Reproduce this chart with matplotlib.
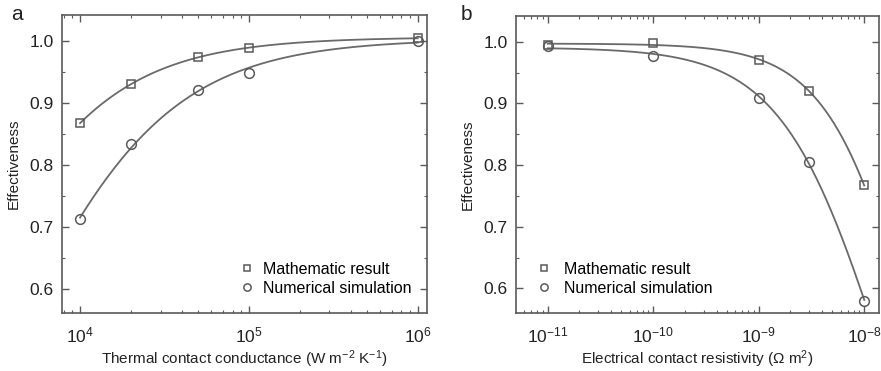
import numpy as np
import matplotlib
matplotlib.use("Agg")
import matplotlib.pyplot as plt
from matplotlib.ticker import LogLocator, MultipleLocator, FixedLocator, NullFormatter

plt.rcParams['font.family'] = ['Liberation Sans', 'DejaVu Sans']
plt.rcParams['mathtext.fontset'] = 'custom'
plt.rcParams['mathtext.rm'] = 'Liberation Sans'
plt.rcParams['mathtext.it'] = 'Liberation Sans:italic'

# Panel a data
xa = [1e4, 2e4, 5e4, 1e5, 1e6]
ya_math = [0.867, 0.930, 0.973, 0.988, 1.004]
ya_num = [0.713, 0.833, 0.920, 0.948, 1.000]
xa_ticks = [1e4, 1e5, 1e6]
xa_ticklabels = [r'$\mathregular{10^{4}}$', r'$\mathregular{10^{5}}$', r'$\mathregular{10^{6}}$']

# Panel b data
xb = [1e-11, 1e-10, 1e-9, 3e-9, 1e-8]
yb_math = [0.995, 0.998, 0.970, 0.921, 0.767]
yb_num = [0.994, 0.977, 0.909, 0.805, 0.580]
xb_ticks = [1e-11, 1e-10, 1e-9, 1e-8]
xb_ticklabels = [r'$\mathregular{10^{-11}}$', r'$\mathregular{10^{-10}}$',
                 r'$\mathregular{10^{-9}}$', r'$\mathregular{10^{-8}}$']

y_ticks = [0.6, 0.7, 0.8, 0.9, 1.0]
legend_labels = ["Mathematic result", "Numerical simulation"]

C = '#5a5a5a'
LC = '#6a6a6a'
TC = '#222222'


def fit(x, y, g, kgrid, pgrid):
    # y = c / (1 + (k*g(x))**p), least squares in y over grids of k and p
    x = np.asarray(x); y = np.asarray(y)
    best = None
    for p in pgrid:
        for k in kgrid:
            f = 1.0 / (1.0 + (k * g(x)) ** p)
            c = np.sum(y * f) / np.sum(f * f)
            r = np.sum((y - c * f) ** 2)
            if best is None or r < best[0]:
                best = (r, c, k, p)
    _, c, k, p = best
    return lambda t: c / (1.0 + (k * g(t)) ** p)


fig = plt.figure(figsize=(8.81, 3.71), dpi=100)
W, H = 881, 371
axa = fig.add_axes([62 / W, 1 - 313 / H, (427 - 62) / W, (313 - 15) / H])
axb = fig.add_axes([516 / W, 1 - 313 / H, (879 - 516) / W, (313 - 16) / H])


def style(ax):
    for s in ax.spines.values():
        s.set_color(C)
        s.set_linewidth(1.2)
    ax.tick_params(which='both', direction='in', top=True, right=True, colors=C,
                   labelcolor=TC)
    ax.tick_params(which='major', length=5, width=1.0, labelsize=12.5, pad=6)
    ax.tick_params(axis='x', which='major', pad=9)
    ax.tick_params(which='minor', length=2.5, width=0.8)
    ax.set_ylabel("Effectiveness", fontsize=11, color=TC, labelpad=6)


pg = np.linspace(0.8, 1.4, 61)

# Panel a
style(axa)
axa.set_xscale('log')
axa.set_xlim(10 ** 3.893, 10 ** 6.055)
axa.set_ylim(0.562, 1.041)
axa.set_yticks(y_ticks)
axa.yaxis.set_minor_locator(MultipleLocator(0.05))
axa.xaxis.set_major_locator(FixedLocator(xa_ticks))
axa.set_xticklabels(xa_ticklabels)
axa.xaxis.set_minor_locator(LogLocator(base=10, subs=np.arange(2, 10)))
axa.xaxis.set_minor_formatter(NullFormatter())
t = np.logspace(4, 6, 300)
kg_a = np.geomspace(1e-4, 1e-2, 400)  # k multiplies 1/x -> scale = 1/k
axa.plot(t, fit(xa, ya_math, lambda v: 1.0 / v, 1 / kg_a, pg)(t), color=LC, lw=1.3)
axa.plot(t, fit(xa, ya_num, lambda v: 1.0 / v, 1 / kg_a, pg)(t), color=LC, lw=1.3)
axa.plot(xa, ya_math, 's', ms=6, mfc='none', mec=C, mew=1.1, label=legend_labels[0])
axa.plot(xa, ya_num, 'o', ms=7, mfc='none', mec=C, mew=1.1, label=legend_labels[1])
axa.set_xlabel(r"Thermal contact conductance (W m$^{\mathregular{-2}}$ K$^{\mathregular{-1}}$)",
               fontsize=11, color=TC, labelpad=2)
axa.legend(loc='lower right', frameon=False, fontsize=11.5, markerscale=0.75,
           handletextpad=0.5, handlelength=1.0, borderaxespad=0.6, labelspacing=0.25,
           bbox_to_anchor=(1.0, 0.005))

# Panel b
style(axb)
axb.set_xscale('log')
axb.set_xlim(10 ** -11.30, 10 ** -7.86)
axb.set_ylim(0.56, 1.042)
axb.set_yticks(y_ticks)
axb.yaxis.set_minor_locator(MultipleLocator(0.05))
axb.xaxis.set_major_locator(FixedLocator(xb_ticks))
axb.set_xticklabels(xb_ticklabels)
axb.xaxis.set_minor_locator(LogLocator(base=10, subs=np.arange(2, 10)))
axb.xaxis.set_minor_formatter(NullFormatter())
t2 = np.logspace(-11, -8, 300)
kg_b = np.geomspace(1e7, 3e8, 400)
axb.plot(t2, fit(xb, yb_math, lambda v: v, kg_b, pg)(t2), color=LC, lw=1.3)
axb.plot(t2, fit(xb, yb_num, lambda v: v, kg_b, pg)(t2), color=LC, lw=1.3)
axb.plot(xb, yb_math, 's', ms=6, mfc='none', mec=C, mew=1.1, label=legend_labels[0])
axb.plot(xb, yb_num, 'o', ms=7, mfc='none', mec=C, mew=1.1, label=legend_labels[1])
axb.set_xlabel(r"Electrical contact resistivity ($\mathregular{\Omega}$ m$^{\mathregular{2}}$)",
               fontsize=11, color=TC, labelpad=2)
axb.legend(loc='lower left', frameon=False, fontsize=11.5, markerscale=0.75,
           handletextpad=0.8, handlelength=1.0, borderaxespad=0.6, labelspacing=0.25,
           bbox_to_anchor=(0.01, 0.005))

fig.text(11 / W, 1 - 15 / H, "a", fontsize=15, va='center', ha='left', color=TC)
fig.text(461 / W, 1 - 15 / H, "b", fontsize=15, va='center', ha='left', color=TC)

fig.savefig("out.png", dpi=100)
